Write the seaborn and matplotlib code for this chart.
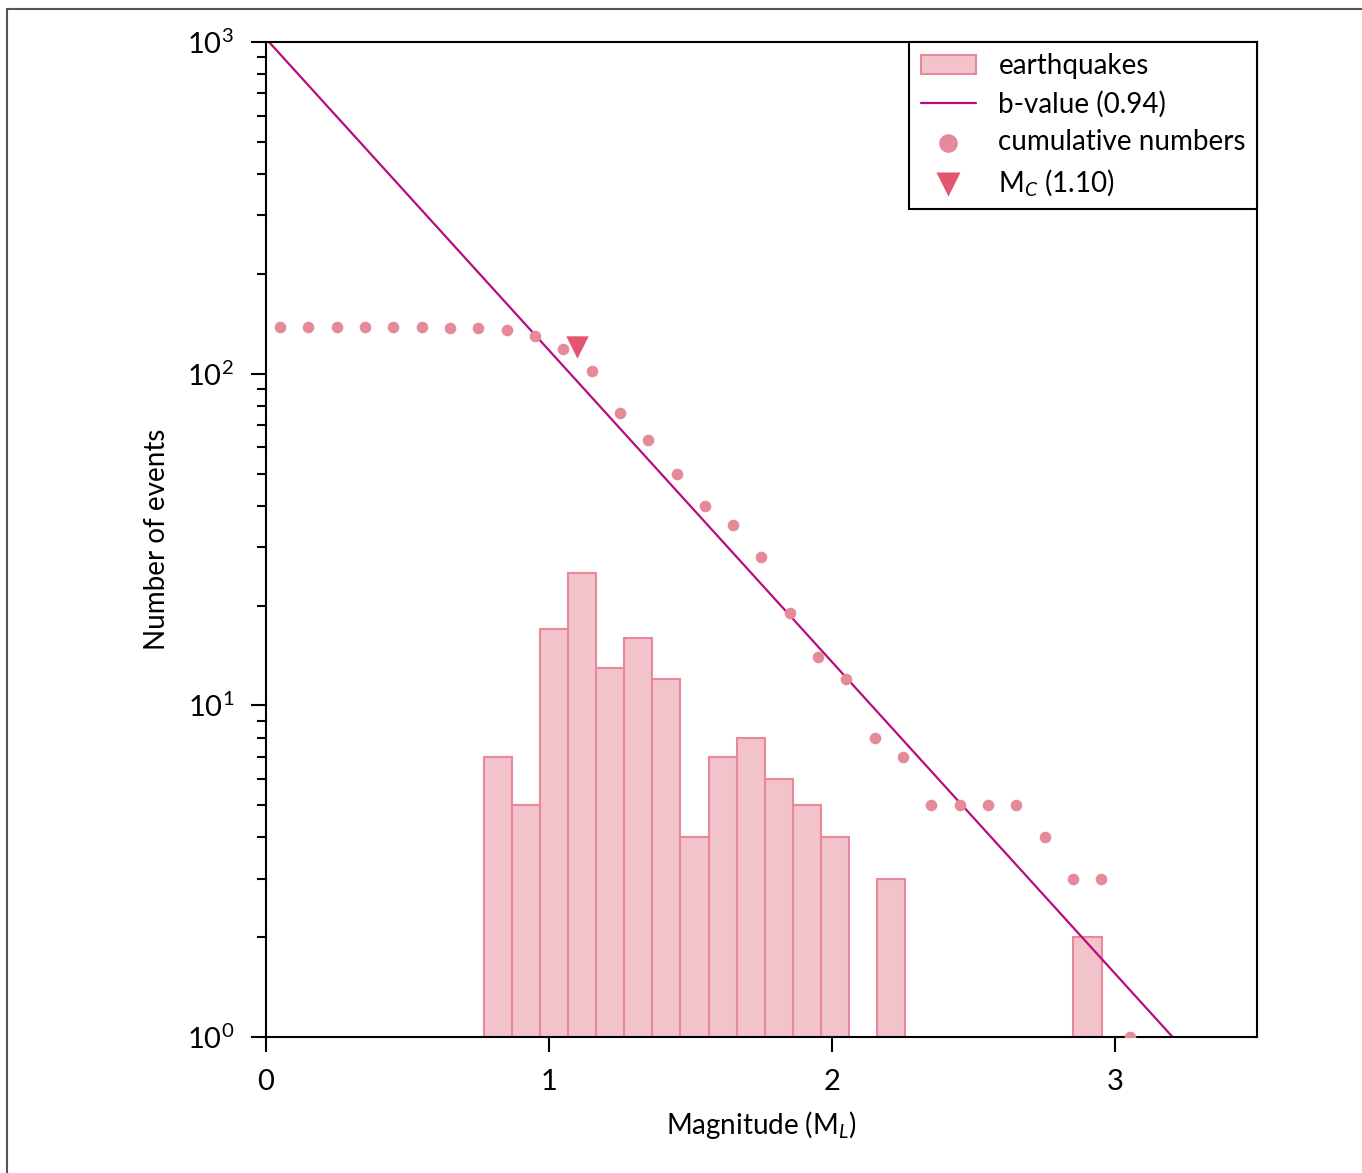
import numpy as np
import pandas as pd
import matplotlib
matplotlib.use("Agg")
import matplotlib.pyplot as plt
from matplotlib.lines import Line2D
import seaborn as sns

# histogram of magnitudes (23 bins between min and max magnitude)
mag_min, mag_max = 0.77, 3.05
hist_counts = [7, 5, 17, 25, 13, 16, 12, 4, 7, 8, 6, 5, 4, 0, 3, 0, 0, 0, 0, 0, 0, 2, 1]

# cumulative number of events per magnitude step
cum_mags = [0.05, 0.15, 0.25, 0.35, 0.45, 0.55, 0.65, 0.75, 0.85, 0.95, 1.05,
            1.15, 1.25, 1.35, 1.45, 1.55, 1.65, 1.75, 1.85, 1.95, 2.05, 2.15,
            2.25, 2.35, 2.45, 2.55, 2.65, 2.75, 2.85, 2.95, 3.05]
cum_counts = [138, 138, 138, 138, 138, 138, 137, 137, 135, 130, 119, 102, 76, 63,
              50, 40, 35, 28, 19, 14, 12, 8, 7, 5, 5, 5, 5, 4, 3, 3, 1]

# Gutenberg-Richter fit and magnitude of completeness
a_value = 3.01
b_value = 0.94
mc = 1.10
mc_count = 120

sns.set_style("ticks")
plt.rcParams['font.family'] = ['Lato', 'DejaVu Sans']
plt.rcParams['mathtext.fontset'] = 'custom'
plt.rcParams['mathtext.rm'] = 'Lato'
plt.rcParams['mathtext.it'] = 'Lato:italic'
plt.rcParams['mathtext.bf'] = 'Lato:bold'
for key in ['text.color', 'axes.labelcolor', 'xtick.color', 'ytick.color']:
    plt.rcParams[key] = 'black'

edges = list(np.linspace(mag_min, mag_max, len(hist_counts) + 1))
centers = [(edges[i] + edges[i + 1]) / 2 for i in range(len(hist_counts))]
hist_df = pd.DataFrame({"mag": centers, "n": hist_counts})
cum_df = pd.DataFrame({"mag": cum_mags, "n": cum_counts})
fit_x = np.array([0.0, 3.5])
fit_df = pd.DataFrame({"mag": fit_x, "n": 10 ** (a_value - b_value * fit_x)})

fig = plt.figure(figsize=(13.62, 11.73), dpi=100)
ax = fig.add_axes([0.1953, 0.1159, 0.7276, 0.8483])

sns.histplot(data=hist_df, x="mag", weights="n", bins=edges, ax=ax,
             color="#e8899b", alpha=0.5, edgecolor="#e8899b", linewidth=1.5,
             label="earthquakes")
sns.lineplot(data=fit_df, x="mag", y="n", ax=ax, color="#b80c7c", linewidth=1.6,
             label="b-value (%.2f)" % b_value)
sns.scatterplot(data=cum_df, x="mag", y="n", ax=ax, color="#e68a9a", s=70,
                linewidth=0, label="cumulative numbers", zorder=3)
sns.scatterplot(x=[mc], y=[mc_count], ax=ax, color="#e4566f", marker="v", s=260,
                linewidth=0, label="M$_C$ (%.2f)" % mc, zorder=4)

ax.set_yscale("log")
ax.set_xlim(0, 3.5)
ax.set_ylim(1, 1000)
ax.set_xticks([0, 1, 2, 3])
ax.set_xlabel("Magnitude (M$_L$)", fontsize=20, labelpad=10)
ax.set_ylabel("Number of events", fontsize=20, labelpad=12)
ax.tick_params(axis="both", which="major", labelsize=21, length=11, width=1.5,
               pad=12, color="black", labelcolor="black")
ax.tick_params(axis="y", which="minor", length=6.5, width=1.5, color="black")
for sp in ax.spines.values():
    sp.set_color("black")
    sp.set_linewidth(1.5)

handles, labels = ax.get_legend_handles_labels()
order = ["earthquakes", "b-value (%.2f)" % b_value, "cumulative numbers",
         "M$_C$ (%.2f)" % mc]
hmap = dict(zip(labels, handles))
leg = ax.legend([hmap[k] for k in order], order, loc="upper right",
                borderaxespad=0, fontsize=20, frameon=True, fancybox=False,
                edgecolor="black", framealpha=1, handlelength=2.0,
                handletextpad=0.8, labelspacing=0.42)
leg.get_frame().set_linewidth(1.5)
leg.legend_handles[2].set_sizes([180])
leg.legend_handles[3].set_sizes([300])

# partial border of the original figure
fig.add_artist(Line2D([0.005, 1.0], [0.9925, 0.9925], color="#555555", linewidth=1.5))
fig.add_artist(Line2D([0.0055, 0.0055], [0.0, 0.9925], color="#555555", linewidth=1.5))

fig.savefig("out.png", dpi=100)
